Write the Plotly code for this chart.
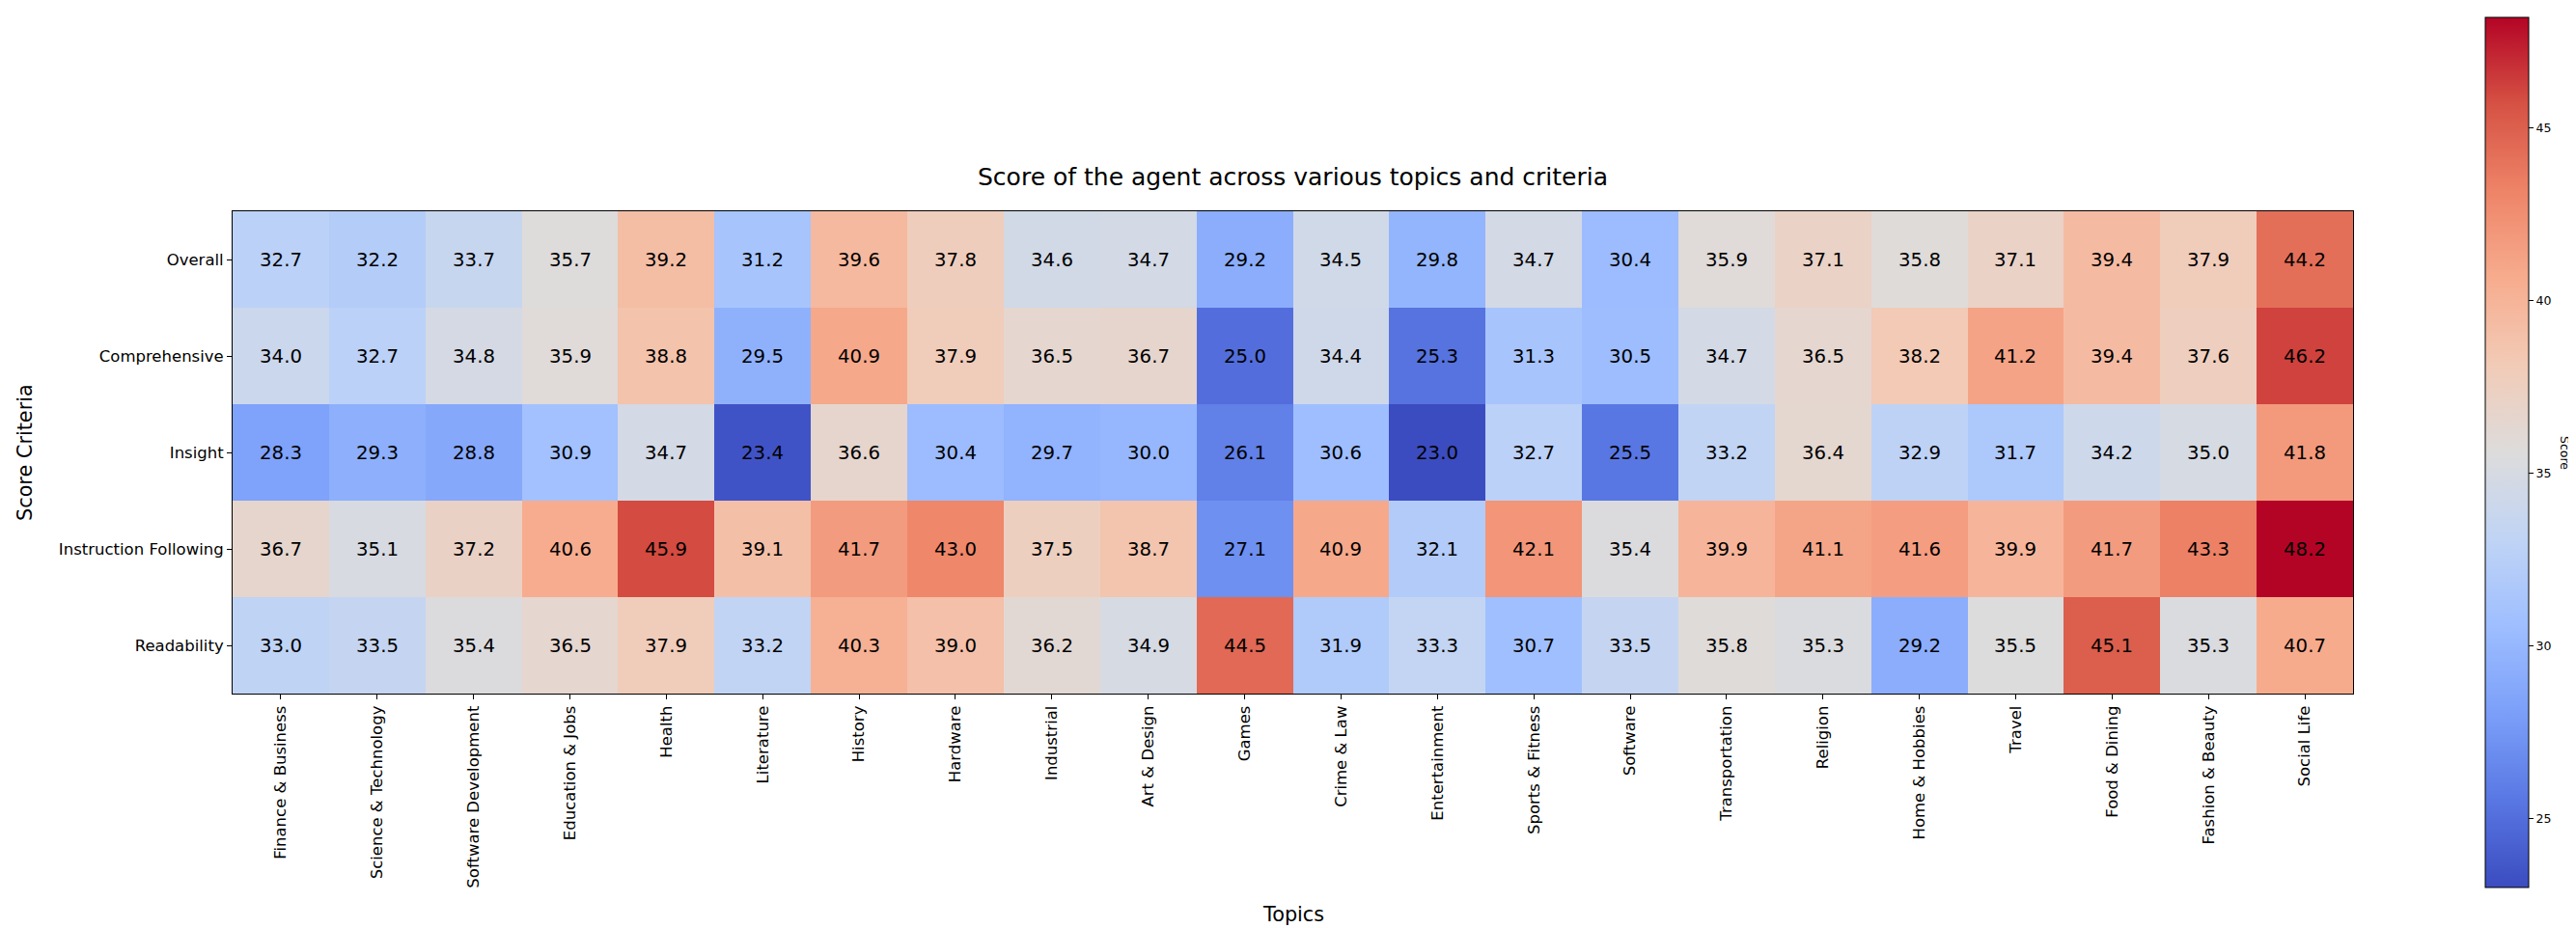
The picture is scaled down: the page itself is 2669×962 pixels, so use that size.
import plotly.graph_objects as go

topics = ["Finance & Business", "Science & Technology", "Software Development", "Education & Jobs",
          "Health", "Literature", "History", "Hardware", "Industrial", "Art & Design", "Games",
          "Crime & Law", "Entertainment", "Sports & Fitness", "Software", "Transportation",
          "Religion", "Home & Hobbies", "Travel", "Food & Dining", "Fashion & Beauty", "Social Life"]
criteria = ["Overall", "Comprehensive", "Insight", "Instruction Following", "Readability"]

overall = [32.7, 32.2, 33.7, 35.7, 39.2, 31.2, 39.6, 37.8, 34.6, 34.7, 29.2, 34.5, 29.8, 34.7, 30.4, 35.9, 37.1, 35.8, 37.1, 39.4, 37.9, 44.2]
comprehensive = [34.0, 32.7, 34.8, 35.9, 38.8, 29.5, 40.9, 37.9, 36.5, 36.7, 25.0, 34.4, 25.3, 31.3, 30.5, 34.7, 36.5, 38.2, 41.2, 39.4, 37.6, 46.2]
insight = [28.3, 29.3, 28.8, 30.9, 34.7, 23.4, 36.6, 30.4, 29.7, 30.0, 26.1, 30.6, 23.0, 32.7, 25.5, 33.2, 36.4, 32.9, 31.7, 34.2, 35.0, 41.8]
instruction_following = [36.7, 35.1, 37.2, 40.6, 45.9, 39.1, 41.7, 43.0, 37.5, 38.7, 27.1, 40.9, 32.1, 42.1, 35.4, 39.9, 41.1, 41.6, 39.9, 41.7, 43.3, 48.2]
readability = [33.0, 33.5, 35.4, 36.5, 37.9, 33.2, 40.3, 39.0, 36.2, 34.9, 44.5, 31.9, 33.3, 30.7, 33.5, 35.8, 35.3, 29.2, 35.5, 45.1, 35.3, 40.7]

z = [overall, comprehensive, insight, instruction_following, readability]
cb_ticks = [25, 30, 35, 40, 45]

coolwarm_hex = ['#3b4cc0', '#5977e3', '#7b9ff9', '#9ebeff', '#c0d4f5', '#dddcdc',
                '#f2cbb7', '#f7ac8e', '#ee8468', '#d65244', '#b40426']
colorscale = [[i / (len(coolwarm_hex) - 1), c] for i, c in enumerate(coolwarm_hex)]

W, H = 2669, 962
L, R, T, B = 233, 2430, 211, 711
pw, ph = R - L, B - T

def px_x(x):
    return (x - L) / pw

def px_y(y):
    return (B - y) / ph

FONT = "DejaVu Sans"

fig = go.Figure(go.Heatmap(
    z=z,
    x=list(range(len(topics))),
    y=list(range(len(criteria))),
    colorscale=colorscale,
    zmin=23.0, zmax=48.2,
    texttemplate="%{z:.1f}",
    textfont=dict(family=FONT, size=19.7, color="black"),
    xgap=0, ygap=0,
    colorbar=dict(
        x=px_x(2567), xanchor="left", xref="paper", xpad=0,
        y=px_y(461), yanchor="middle", yref="paper", ypad=0,
        lenmode="pixels", len=902,
        thicknessmode="pixels", thickness=45,
        outlinecolor="black", outlinewidth=1,
        tickvals=cb_ticks, ticks="outside", ticklen=5, tickcolor="black",
        tickfont=dict(family=FONT, size=12.5, color="black"),
        title=dict(text="", side="right"),
    ),
))

fig.update_layout(
    width=W, height=H,
    margin=dict(l=L, r=W - R, t=T, b=H - B, pad=0, autoexpand=False),
    paper_bgcolor="white", plot_bgcolor="white",
    font=dict(family=FONT, color="black"),
    title=dict(text="Score of the agent across various topics and criteria",
               x=0.5, xref="paper", xanchor="center",
               y=1 - 175 / H, yref="container", yanchor="middle",
               font=dict(family=FONT, size=25, color="black")),
    showlegend=False,
)

fig.update_xaxes(
    range=[-0.5, len(topics) - 0.5],
    tickmode="array", tickvals=list(range(len(topics))), ticktext=topics,
    tickangle=-90, ticks="outside", ticklen=5, tickcolor="black",
    tickfont=dict(family=FONT, size=16.5, color="black"),
    showline=True, linecolor="black", linewidth=1, mirror=True,
    showgrid=False, zeroline=False, automargin=False,
)
fig.update_yaxes(
    range=[len(criteria) - 0.5, -0.5],
    tickmode="array", tickvals=list(range(len(criteria))), ticktext=criteria,
    ticks="outside", ticklen=5, tickcolor="black",
    tickfont=dict(family=FONT, size=16.5, color="black"),
    showline=True, linecolor="black", linewidth=1, mirror=True,
    showgrid=False, zeroline=False, automargin=False,
)

fig.add_annotation(text="Topics", xref="paper", yref="paper",
                   x=0.5, y=px_y(940), xanchor="center", yanchor="middle",
                   showarrow=False, font=dict(family=FONT, size=20.8, color="black"))
fig.add_annotation(text="Score Criteria", xref="paper", yref="paper",
                   x=px_x(18), y=0.5, xanchor="center", yanchor="middle", textangle=-90,
                   showarrow=False, font=dict(family=FONT, size=20.8, color="black"))
fig.add_annotation(text="Score", xref="paper", yref="paper",
                   x=px_x(2650), y=px_y(461), xanchor="center", yanchor="middle", textangle=90,
                   showarrow=False, font=dict(family=FONT, size=12.5, color="black"))

fig.write_html("out.html")
